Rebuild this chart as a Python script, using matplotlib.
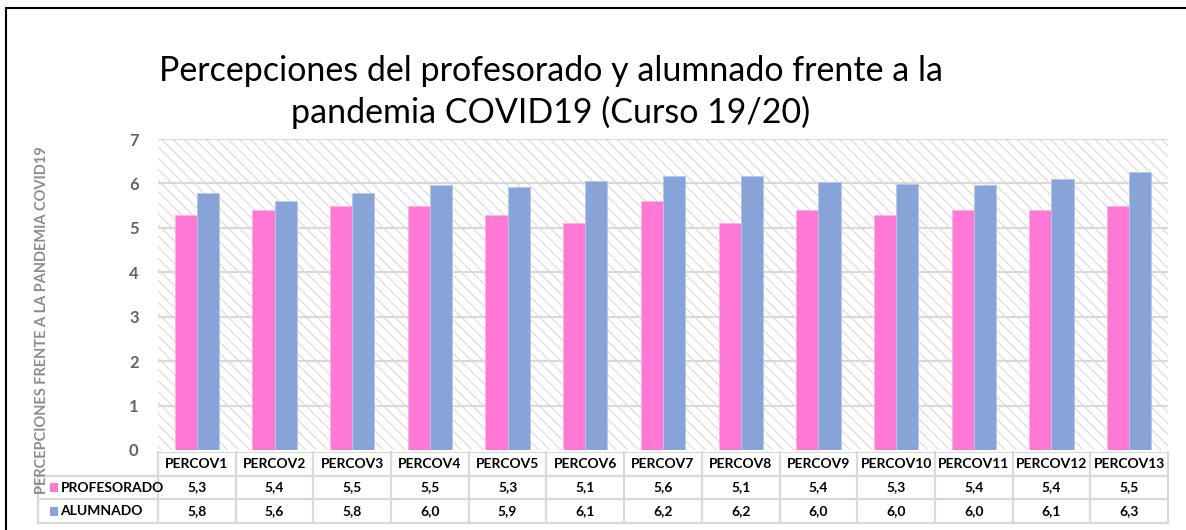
import numpy as np
import matplotlib
matplotlib.use("Agg")
import matplotlib.pyplot as plt
from matplotlib.patches import Rectangle
from matplotlib.lines import Line2D

# data (bars are a bit more precise than the table)
categorias = ["PERCOV%d" % i for i in range(1, 14)]
profesorado = [5.3, 5.4, 5.5, 5.5, 5.3, 5.1, 5.6, 5.1, 5.4, 5.3, 5.4, 5.4, 5.5]
alumnado = [5.78, 5.6, 5.78, 5.97, 5.93, 6.06, 6.16, 6.16, 6.03, 5.99, 5.97, 6.09, 6.26]
series = ["PROFESORADO", "ALUMNADO"]
colores = ["#ff78d6", "#87a3d8"]
yticks = [0, 1, 2, 3, 4, 5, 6, 7]

titulo = "Percepciones del profesorado y alumnado frente a la\npandemia COVID19 (Curso 19/20)"
ylabel = "PERCEPCIONES FRENTE A LA PANDEMIA COVID19"

plt.rcParams['font.family'] = ['Lato', 'DejaVu Sans']
plt.rcParams['hatch.color'] = '#d9d9d9'
plt.rcParams['hatch.linewidth'] = 0.8

W, H = 1186, 530
fig = plt.figure(figsize=(W / 100, H / 100), dpi=100)

def fx(px):
    return px / W

def fy(py):
    return 1 - py / H

# main plot area
ax = fig.add_axes([fx(158), fy(450), fx(1168) - fx(158), fy(139) - fy(450)])
x = np.arange(len(categorias))
bw = 0.285

# hatched background like the excel "wide downward diagonal" fill
ax.add_patch(Rectangle((0, 0), 1, 1, transform=ax.transAxes, facecolor='white',
                       edgecolor='#d9d9d9', linewidth=0, hatch='\\\\\\', zorder=0))
for yv in yticks[1:]:
    ax.axhline(yv, color='#d9d9d9', linewidth=1.6, zorder=1)

ax.bar(x - bw / 2, profesorado, bw, color=colores[0], edgecolor='#ffb0e8', linewidth=0.6, zorder=3)
ax.bar(x + bw / 2, alumnado, bw, color=colores[1], edgecolor='#b8c8e8', linewidth=0.6, zorder=3)

ax.set_xlim(-0.5, len(categorias) - 0.5)
ax.set_ylim(0, 7)
ax.set_yticks(yticks)
ax.set_yticklabels([str(v) for v in yticks], fontsize=12, fontweight='bold', color='#646464')
ax.tick_params(axis='y', length=0, pad=14)
ax.set_xticks([])
for s in ax.spines.values():
    s.set_visible(False)

# data table under the plot
tx_left = -0.5 - 120 / ((1168 - 158) / 13)
tax = fig.add_axes([fx(38), fy(523), fx(1168) - fx(38), fy(452) - fy(523)])
tax.set_xlim(tx_left, len(categorias) - 0.5)
tax.set_ylim(3, 0)
tax.axis('off')
gc = '#d9d9d9'
lw = 1.6
# horizontal lines
tax.add_line(Line2D([-0.5, len(categorias) - 0.5], [0, 0], color=gc, lw=lw))
for r in [1, 2, 3]:
    tax.add_line(Line2D([tx_left, len(categorias) - 0.5], [r, r], color=gc, lw=lw, clip_on=False))
# vertical lines
tax.add_line(Line2D([tx_left, tx_left], [1, 3], color=gc, lw=lw, clip_on=False))
for c in range(len(categorias) + 1):
    tax.add_line(Line2D([c - 0.5, c - 0.5], [0, 3], color=gc, lw=lw, clip_on=False))

fs = 10
for i, cat in enumerate(categorias):
    tax.text(i, 0.5, cat, ha='center', va='center', fontsize=fs, fontweight='bold', color='black')
    tax.text(i, 1.5, ("%.1f" % profesorado[i]).replace('.', ','), ha='center', va='center',
             fontsize=fs, fontweight='bold', color='black')
    tax.text(i, 2.5, ("%.1f" % alumnado[i]).replace('.', ','), ha='center', va='center',
             fontsize=fs, fontweight='bold', color='black')

for r, (nombre, col) in enumerate(zip(series, colores)):
    tax.add_patch(Rectangle((tx_left + 0.16, 1.5 + r - 0.17), 0.1, 0.36, facecolor=col,
                            edgecolor='none', clip_on=False))
    tax.text(tx_left + 0.29, 1.5 + r, nombre, ha='left', va='center', fontsize=fs,
             fontweight='bold', color='black')

# y axis title and chart title
fig.text(fx(42), fy(320), ylabel, rotation=90, ha='center', va='center',
         fontsize=10.5, fontweight='bold', color='#8c8c8c')
fig.text(fx(551), fy(92), titulo, ha='center', va='center', fontsize=24.5,
         color='black', linespacing=1.3)

# border of the chart frame (only top and left visible)
fig.add_artist(Line2D([fx(6), 1], [fy(8), fy(8)], color='black', lw=1.5))
fig.add_artist(Line2D([fx(6), fx(6)], [fy(8), 0], color='black', lw=1.5))

fig.savefig("out.png", dpi=100)
